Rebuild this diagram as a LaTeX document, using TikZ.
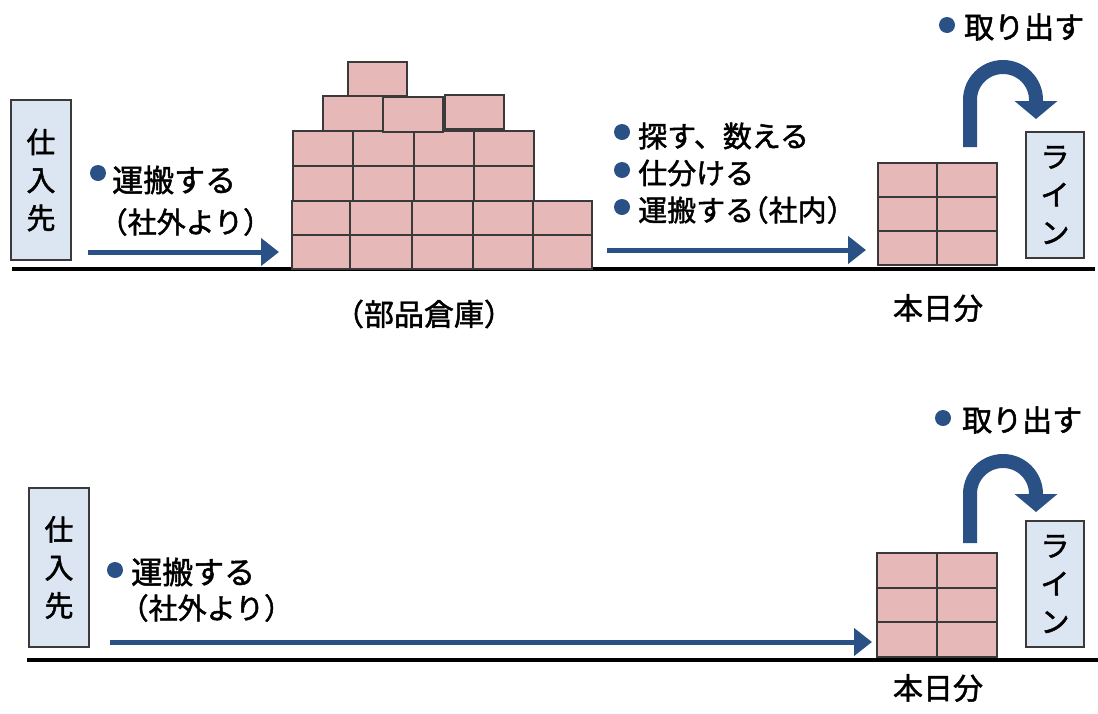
\documentclass[tikz,border=0pt]{standalone}
\usepackage{fontspec}
\newfontfamily\jpfont[FakeBold=1.6]{Noto Sans CJK JP}
\usetikzlibrary{arrows.meta}
\definecolor{arrowblue}{HTML}{2A5185}
\definecolor{brickpink}{HTML}{E6B8B7}
\definecolor{boxblue}{HTML}{DCE6F2}
\definecolor{edgegray}{HTML}{3A3A3A}
\newcommand{\lp}{\kern-0.5em（}
\tikzset{
  jp/.style={font=\jpfont\fontsize{#1}{#1}\selectfont, inner sep=0pt},
  vbox/.style={draw=edgegray, line width=1.2pt, fill=boxblue, minimum width=60pt, minimum height=#1, inner sep=0pt, align=center, font=\jpfont\fontsize{29}{38}\selectfont},
  brick/.style={draw=edgegray, line width=1.3pt, fill=brickpink},
  ground/.style={line width=3.8pt, black},
  flow/.style={line width=5pt, arrowblue, -{Triangle[width=27pt,length=18pt]}},
  takeout/.style={line width=14pt, arrowblue, -{Triangle[width=42pt,length=18pt]}},
  bullet/.style={circle, fill=arrowblue, minimum size=16pt, inner sep=0pt},
  lbl/.style={jp=#1, anchor=west, text=black},
}
\begin{document}
\begin{tikzpicture}[x=1pt,y=1pt]
\useasboundingbox (0,0) rectangle (1098,-713);

% ================= TOP =================
\draw[ground] (12,-269) coordinate (g1a) -- (1095,-269) coordinate (g1b);

\node[vbox=160pt] (sup1) at (41,-180) {仕\\入\\先};
\node[vbox=126pt, minimum width=58pt] (line1) at (1055,-195) {ラ\\イ\\ン};

% warehouse pile
\foreach \x/\w in {292/58,350/62,412/61,473/60,533/59}{
  \draw[brick] (\x,-235) rectangle ++(\w,-34);
  \draw[brick] (\x,-201) rectangle ++(\w,-34);
}
\foreach \x/\w in {293/60,353/61,414/60,474/60}{
  \draw[brick] (\x,-166) rectangle ++(\w,-35);
  \draw[brick] (\x,-131) rectangle ++(\w,-35);
}
\draw[brick] (323,-96) rectangle (383,-131);
\draw[brick] (383,-97) rectangle (443,-132);
\draw[brick] (445,-95) rectangle (504,-129);
\draw[brick] (348,-62) rectangle (407,-96);
\coordinate (pile1) at (292,-252);
\node[jp=30] (lblwh) at (424,-314) {（部品倉庫）};

% today's stock (top)
\foreach \y in {163,197,231}{
  \draw[brick] (878,-\y) rectangle (937,-\y-34);
  \draw[brick] (937,-\y) rectangle (997,-\y-34);
}
\coordinate (stock1) at (878,-250);
\node[jp=30] (lbltd1) at (938,-308) {本日分};

% left transport
\node[bullet] (b1) at (98,-173) {};
\node[lbl=31] (t1) at (112,-180) {運搬する};
\node[lbl=29] (t1b) at (113,-222) {\lp 社外より）};
\coordinate (a1s) at (88,-252);
\draw[flow] (a1s) -- ([xshift=-13pt]pile1);

% middle list
\node[bullet] (b2) at (622,-132) {};
\node[lbl=29] (t2) at (638,-136) {探す、数える};
\node[bullet] (b3) at (622,-170) {};
\node[lbl=29] (t3) at (638,-173) {仕分ける};
\node[bullet] (b4) at (622,-207) {};
\node[lbl=29] (t4) at (638,-210) {運搬する\lp 社内）};
\coordinate (a2s) at (607,-250);
\draw[flow] (a2s) -- ([xshift=-12pt]stock1);

% take out (top)
\node[bullet] (b5) at (947,-25) {};
\node[lbl=30] (t5) at (964,-27) {取り出す};
\coordinate (c1s) at (970,-147);
\draw[takeout] (c1s) -- (970,-100) arc[start angle=180, end angle=0, radius=33] -- (1036,-119);

% ================= BOTTOM =================
\draw[ground] (27,-660) coordinate (g2a) -- (1098,-660) coordinate (g2b);

\node[vbox=159pt] (sup2) at (59,-567.5) {仕\\入\\先};
\node[vbox=126pt, minimum width=58pt] (line2) at (1055,-584) {ラ\\イ\\ン};

\foreach \y in {553,588,622}{
  \draw[brick] (877,-\y) rectangle (937,-\y-35);
  \draw[brick] (937,-\y) rectangle (997,-\y-35);
}
\coordinate (stock2) at (877,-642);
\node[jp=30] (lbltd2) at (938,-688) {本日分};

\node[bullet] (b6) at (115,-570) {};
\node[lbl=31] (t6) at (131,-572) {運搬する};
\node[lbl=29] (t6b) at (134,-608) {\lp 社外より）};
\coordinate (a3s) at (110,-642);
\draw[flow] (a3s) -- ([xshift=-5pt]stock2);

\node[bullet] (b7) at (943,-418) {};
\node[lbl=30] (t7) at (962,-420) {取り出す};
\coordinate (c2s) at (970,-543);
\draw[takeout] (c2s) -- (970,-494) arc[start angle=180, end angle=0, radius=33] -- (1036,-512);
\end{tikzpicture}
\end{document}
